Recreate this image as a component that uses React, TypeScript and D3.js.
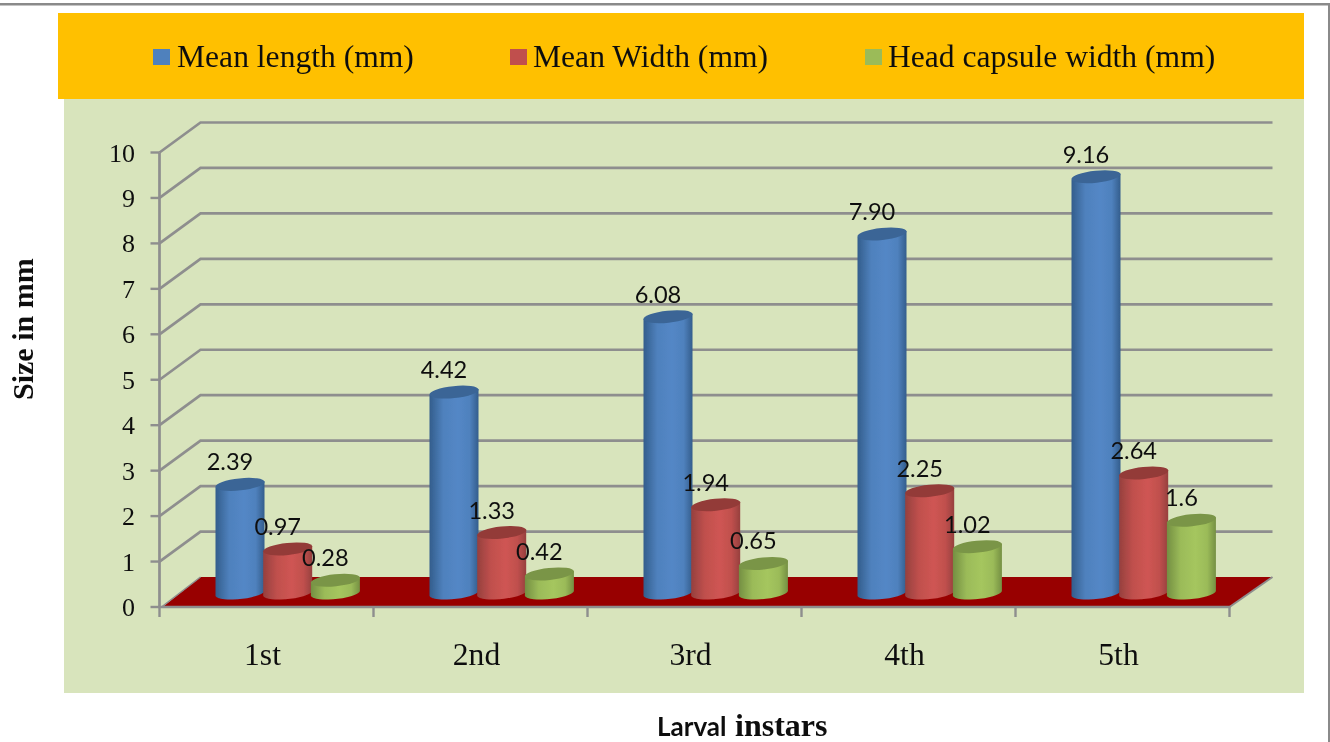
import React from "react";
import * as d3 from "d3";

const instars = ["1st", "2nd", "3rd", "4th", "5th"];
const meanLength = ["2.39", "4.42", "6.08", "7.90", "9.16"];
const meanWidth = ["0.97", "1.33", "1.94", "2.25", "2.64"];
const headCapsule = ["0.28", "0.42", "0.65", "1.02", "1.6"];
const seriesNames = ["Mean length (mm)", "Mean Width (mm)", "Head capsule width (mm)"];
const yTicks = [0, 1, 2, 3, 4, 5, 6, 7, 8, 9, 10];

const W = 1330, H = 742;
const depthX = 41, depthY = 30;
const y = d3.scaleLinear().domain([0, 10]).range([607, 152.5]);
const x = d3.scaleBand<string>().domain(instars).range([159.5, 1229.5]);
const barW = 49, barStep = 47.7, barInset = 56, baseY = 593;
const rx = 24.7, ry = 6, tilt = -6, tiltDy = 3;
const GRID = "#8e8e8e";

const series = [
  { id: "blue", values: meanLength, swatch: "#4f81bd", top: "#3a6596", edge: "#335d8c", mid: "#5387c6", sx: 153, tx: 177 },
  { id: "red", values: meanWidth, swatch: "#c0504d", top: "#933a38", edge: "#96403e", mid: "#cf5553", sx: 510, tx: 533 },
  { id: "green", values: headCapsule, swatch: "#9bbb59", top: "#7a9546", edge: "#748f42", mid: "#a5c65e", sx: 865, tx: 888 },
];

const serif = "'Liberation Serif', serif";

function Cylinder({ s, cat, i }: any) {
  const v = +s.values[instars.indexOf(cat)];
  const left = x(cat)! + barInset + i * barStep;
  const right = left + barW;
  const cx = left + barW / 2;
  const topY = baseY - (y(0) - y(v));
  const body = `M${left},${topY + tiltDy} L${left},${baseY + tiltDy} A${rx},${ry} ${tilt} 0 0 ${right},${baseY - tiltDy} L${right},${topY - tiltDy} Z`;
  return (
    <g>
      <path d={body} fill={`url(#grad-${s.id})`} />
      <ellipse cx={cx} cy={topY} rx={rx} ry={ry} transform={`rotate(${tilt} ${cx} ${topY})`} fill={s.top} />
    </g>
  );
}

export default function App() {
  const x0 = 159.5, x1 = 1229.5;
  const floor = [
    [x0 + 3, y(0)],
    [x0 + depthX, y(0) - depthY],
    [x1 + depthX + 2, y(0) - depthY],
    [x1, y(0)],
  ];
  return (
    <svg width={W} height={H} viewBox={`0 0 ${W} ${H}`} style={{ position: "fixed", left: 0, top: 0, background: "#fff" }}>
      <defs>
        {series.map((s) => (
          <linearGradient key={s.id} id={`grad-${s.id}`} x1="0" x2="1" y1="0" y2="0">
            <stop offset="0" stopColor={s.edge} />
            <stop offset="0.28" stopColor={s.swatch} />
            <stop offset="0.58" stopColor={s.mid} />
            <stop offset="0.82" stopColor={s.swatch} />
            <stop offset="1" stopColor={s.edge} />
          </linearGradient>
        ))}
        <filter id="soft" x="-2%" y="-2%" width="104%" height="104%">
          <feGaussianBlur stdDeviation="0.45" />
        </filter>
      </defs>
      <g filter="url(#soft)">
        <rect x={0} y={3} width={W} height={2.5} fill="#8a8a8a" />
        <rect x={1328} y={3} width={2} height={H} fill="#8a8a8a" />
        <rect x={64} y={99} width={1240} height={594} fill="#d8e4bc" />
        <rect x={58} y={13} width={1246} height={86} fill="#ffc000" />

        {series.map((s, i) => (
          <g key={s.id}>
            <rect x={s.sx} y={49} width={17} height={16} fill={s.swatch} />
            <text x={s.tx} y={67} fontFamily={serif} fontSize={31.6} fill="#111">{seriesNames[i]}</text>
          </g>
        ))}

        {yTicks.filter((t) => t > 0).map((t) => (
          <path key={t} d={`M${x0},${y(t)} L${x0 + depthX},${y(t) - depthY} L${x1 + depthX + 2},${y(t) - depthY}`} fill="none" stroke={GRID} strokeWidth={2.7} />
        ))}
        <polygon points={floor.map((p) => p.join(",")).join(" ")} fill="#980000" />
        <path d={`M${x0 + 2},${y(0)} L${x0 + depthX},${y(0) - depthY}`} stroke={GRID} strokeWidth={1.5} fill="none" />
        <path d={`M${x1},${y(0)} L${x1 + depthX + 2},${y(0) - depthY}`} stroke={GRID} strokeWidth={2} fill="none" />

        <line x1={x0} x2={x0} y1={y(10)} y2={y(0)} stroke={GRID} strokeWidth={2.7} />
        <line x1={x0 - 1} x2={x1 + 1} y1={y(0)} y2={y(0)} stroke={GRID} strokeWidth={2.7} />
        {yTicks.map((t) => (
          <g key={t}>
            <line x1={x0 - 9} x2={x0} y1={y(t)} y2={y(t)} stroke={GRID} strokeWidth={2.4} />
            <text x={135} y={y(t) + 9} textAnchor="end" fontFamily={serif} fontSize={26} fill="#111">{t}</text>
          </g>
        ))}
        {[...instars.map((c) => x(c)!), x1].map((px) => (
          <line key={px} x1={px} x2={px} y1={y(0)} y2={y(0) + 10} stroke={GRID} strokeWidth={2.4} />
        ))}
        {instars.map((c) => (
          <text key={c} x={x(c)! + x.bandwidth() / 2 - 4} y={665} textAnchor="middle" fontFamily={serif} fontSize={31.6} fill="#111">{c}</text>
        ))}

        {instars.map((c) => (
          <g key={c}>
            {series.map((s, i) => <Cylinder key={s.id} s={s} cat={c} i={i} />)}
          </g>
        ))}

        {instars.map((c, ci) =>
          series.map((s, i) => {
            const v = +s.values[ci];
            const cx = x(c)! + barInset + i * barStep + barW / 2 - 10;
            const topY = baseY - (y(0) - y(v));
            return (
              <text key={s.id + c} x={cx} y={topY - 14} textAnchor="middle" fontFamily="Lato, sans-serif" fontSize={23.6} fill="#111">
                {s.values[ci]}
              </text>
            );
          })
        )}

        <text transform="translate(33,400) rotate(-90)" fontFamily={serif} fontWeight="bold" fontSize={30} fill="#111">Size in mm</text>
        <text x={657} y={736} fontFamily="Lato, sans-serif" fontWeight="bold" fontSize={26} fill="#111">Larval</text>
        <text x={735} y={736} fontFamily={serif} fontWeight="bold" fontSize={32} fill="#111">instars</text>
      </g>
    </svg>
  );
}
